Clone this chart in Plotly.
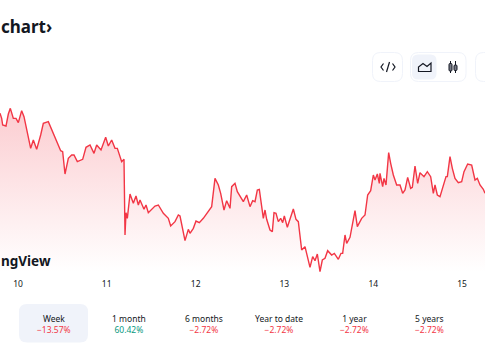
import plotly.graph_objects as go

W, H = 485, 360

bars = [0,5,8,18,25,31,40,48,55,65,72,82,92,100,110,122,130,145,158,170,182,188,195,205,215,222,232,248,258,270,282,290,303,317,325,335,345,352,365,372,375,378,382,390,400,408,415,420,432,438,445,465,475,490,505,512,525,535,540,555,565,570,580,588,598,610,625,635,645,655,662,672,680,690,695,705,712,730,740,
        750,758,765,772,778,790,795,800,810,817,822,828,835,842,848,853,862,880,888,895,905,915,930,938,945,952,960,967,975,983,995,1003,1015,1023,1028,1035,1040,1050,1065,1072,1085,1095,1103,1112,1120,1125,1132,1138,1140,1148,1152,1158,1166,1172,1180,1190,1200,1208,1215,1223,1232,1237,1245,1253,1260,1272,1282,1292,1300,1305,1312,1320,1332,1338,1342,1350,1357,1365,1375,1385,1392,1403,1415,1425,1432,1440,1450,1455]
close = [530,515,495,492,528,545,515,515,502,538,520,470,425,450,422,465,500,505,475,445,418,415,348,395,405,405,385,392,428,435,410,435,420,458,432,450,425,425,385,392,165,232,215,288,260,282,255,270,242,255,232,252,255,230,215,192,205,225,222,148,182,170,185,207,202,215,235,250,335,315,290,240,268,245,310,320,295,265,285,
         250,268,265,300,302,215,240,212,180,175,232,230,205,215,202,222,188,243,212,205,120,130,68,100,88,108,55,90,95,118,105,110,92,110,110,165,140,158,238,190,215,225,285,298,345,330,348,320,350,310,335,315,412,380,345,315,315,290,300,338,305,308,372,320,352,340,355,340,290,315,285,280,320,340,340,400,365,335,322,325,355,378,375,330,335,315,302,290]
tick_bars = [54, 320, 587, 853, 1120, 1386]
tick_labels = ["10", "11", "12", "13", "14", "15"]
periods = ["Week", "1 month", "6 months", "Year to date", "1 year", "5 years"]
changes = ["−13.57%", "60.42%", "−2.72%", "−2.72%", "−2.72%", "−2.72%"]

RED, GREEN, INK = "#F23645", "#089981", "#131722"
CARD, BORDER = "#F0F3FA", "#F0F3FA"
FONT = "Noto Sans"

def X(p): return p / W
def Y(p): return 1 - p / H

def rrect(x0, y0, x1, y1, r):
    pts = (f"M{X(x0+r)},{Y(y0)} L{X(x1-r)},{Y(y0)} Q{X(x1)},{Y(y0)} {X(x1)},{Y(y0+r)} "
           f"L{X(x1)},{Y(y1-r)} Q{X(x1)},{Y(y1)} {X(x1-r)},{Y(y1)} L{X(x0+r)},{Y(y1)} "
           f"Q{X(x0)},{Y(y1)} {X(x0)},{Y(y1-r)} L{X(x0)},{Y(y0+r)} Q{X(x0)},{Y(y0)} {X(x0+r)},{Y(y0)} Z")
    return pts

def poly(points, close_it=False):
    s = "M" + " L".join(f"{X(a)},{Y(b)}" for a, b in points)
    return s + (" Z" if close_it else "")

shapes = []
def add(path, fill="rgba(0,0,0,0)", line=None, lw=1):
    shapes.append(dict(type="path", xref="paper", yref="paper", path=path, fillcolor=fill,
                       line=dict(color=line or "rgba(0,0,0,0)", width=lw if line else 0), layer="above"))

add(rrect(19, 304, 88, 342.5, 8), fill=CARD)
add(rrect(372.5, 52.5, 402.5, 81.5, 8), line=BORDER)
add(rrect(410.5, 52.5, 466, 81.5, 8), line=BORDER)
add(rrect(412, 54.5, 436.5, 79.5, 6), fill=CARD)
add(rrect(475.5, 52.5, 510, 81.5, 8), line=BORDER)
add(poly([(418.5, 71.5), (418.5, 67), (423, 63.5), (427, 66.5), (431, 63), (431, 71.5)], True), line=INK, lw=1.2)
add(poly([(450.5, 61), (450.5, 73)]), line=INK, lw=1)
add(rrect(449, 63.5, 452, 71, 1), fill="#787B86", line=INK, lw=1)
add(poly([(455.5, 61), (455.5, 73)]), line=INK, lw=1)
add(rrect(454, 65, 457, 70.5, 1), fill="#787B86", line=INK, lw=1)
add(poly([(383.5, 63.5), (381, 67), (383.5, 70.5)]), line=INK, lw=1.2)
add(poly([(392.5, 63.5), (395, 67), (392.5, 70.5)]), line=INK, lw=1.2)
add(poly([(389.5, 62), (386.5, 72)]), line=INK, lw=1.2)

def note(x, y, text, size, color, anchor="center", bold=False):
    return dict(xref="paper", yref="paper", x=X(x), y=Y(y), text=f"<b>{text}</b>" if bold else text,
                showarrow=False, xanchor=anchor, yanchor="middle",
                font=dict(family=FONT, size=size, color=color))

centers = [53.5, 129, 204, 279, 354, 429]
annotations = [
    note(-1, 27, "chart›", 17, INK, "left", True),
    note(-1, 261, "ngView", 13.5, INK, "left", True),
]
for c, p, ch in zip(centers, periods, changes):
    col = GREEN if not ch.startswith("−") else RED
    annotations.append(note(c, 323.5, f"{p}<br><span style='color:{col}'>{ch}</span>", 8.5, INK))

fig = go.Figure(go.Scatter(
    x=bars, y=close, mode="lines", line=dict(color=RED, width=1.4),
    fill="tozeroy",
    fillgradient=dict(type="vertical", colorscale=[[0, "rgba(242,54,69,0)"], [0.1, "rgba(242,54,69,0)"], [1, "rgba(242,54,69,0.25)"]]),
    hoverinfo="skip",
))
fig.update_layout(
    width=W, height=H, margin=dict(l=0, r=0, t=0, b=0),
    paper_bgcolor="white", plot_bgcolor="white", showlegend=False,
    shapes=shapes, annotations=annotations,
    xaxis=dict(range=[0, 1455], tickvals=tick_bars, ticktext=tick_labels, showgrid=False, zeroline=False,
               showline=False, ticks="outside", ticklen=4, tickcolor="rgba(0,0,0,0)",
               tickfont=dict(family=FONT, size=8.5, color=INK), domain=[0, 1]),
    yaxis=dict(range=[54, 870], showgrid=False, zeroline=False, showline=False, showticklabels=False,
               domain=[Y(272), 1]),
)
fig.write_html("out.html", config={"displayModeBar": False},
               post_script="document.body.style.margin='0';")
